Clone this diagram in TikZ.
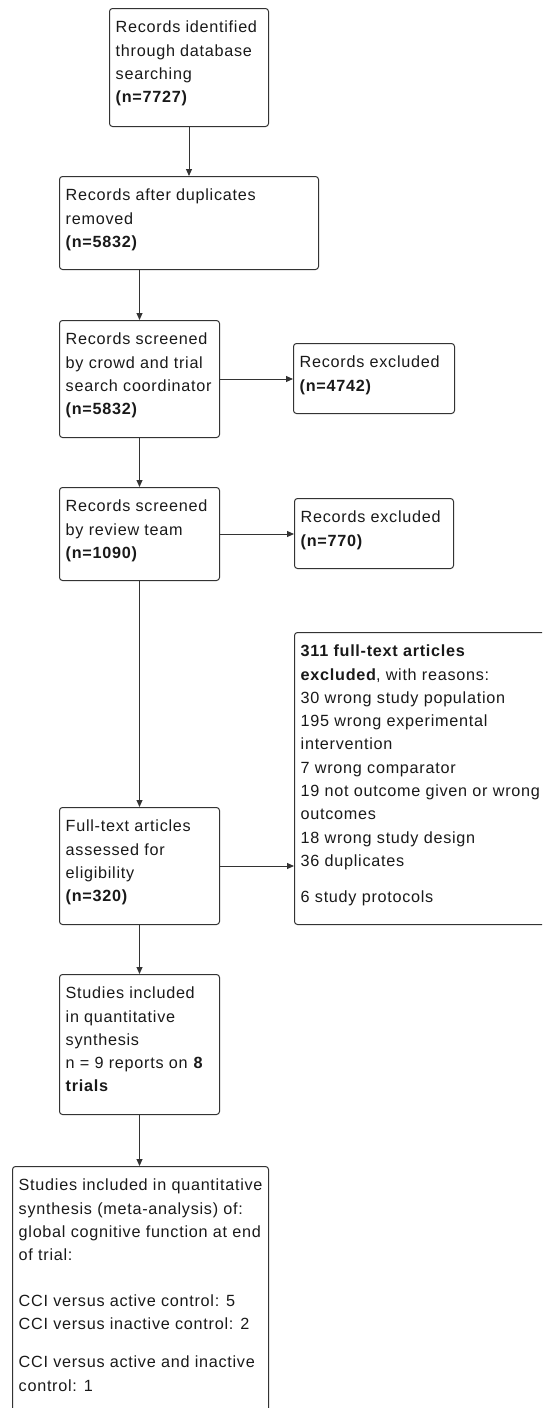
\documentclass[tikz,border=0pt]{standalone}
\usepackage{fontspec}
\setmainfont{Liberation Sans}[LetterSpace=4.5]
\usetikzlibrary{arrows.meta}
\tikzset{
  box/.style={draw=black!80, line width=1pt, rounded corners=3pt, inner sep=0pt, anchor=north west},
  txt/.style={anchor=north west, inner sep=0pt, align=left, text=black!90,
    font=\fontsize{16.2}{23.3}\selectfont},
  arr/.style={draw=black!80, line width=1pt, -{Triangle[length=7pt,width=6pt]}},
}
\newcommand\fl{\rule{0pt}{14pt}}
\begin{document}
\begin{tikzpicture}[x=1pt,y=-1pt]
\useasboundingbox (0,0) rectangle (542,1408);
\clip (0,0) rectangle (542,1408);
% boxes
\node[box, minimum width=159pt, minimum height=118pt] (b1) at (109,8) {};
\node[box, minimum width=259pt, minimum height=93pt] (b2) at (59,176) {};
\node[box, minimum width=160pt, minimum height=117pt] (b3) at (59,320) {};
\node[box, minimum width=161pt, minimum height=70pt] (b4) at (293,343) {};
\node[box, minimum width=160pt, minimum height=93pt] (b5) at (59,487) {};
\node[box, minimum width=159pt, minimum height=70pt] (b6) at (294,498) {};
\node[box, minimum width=270pt, minimum height=292pt] (b7) at (294,632) {};
\node[box, minimum width=160pt, minimum height=117pt] (b8) at (59,807) {};
\node[box, minimum width=160pt, minimum height=140pt] (b9) at (59,974) {};
\node[box, minimum width=256pt, minimum height=270pt] (b10) at (12,1166) {};
% texts
\node[txt] (t1) at ([xshift=6.5pt,yshift=-10.5pt]b1.north west)
  {\fl Records identified\\through database\\searching\\\textbf{(n=7727)}};
\node[txt] (t2) at ([xshift=6.5pt,yshift=-10.5pt]b2.north west)
  {\fl Records after duplicates\\removed\\\textbf{(n=5832)}};
\node[txt] (t3) at ([xshift=6.5pt,yshift=-10.5pt]b3.north west)
  {\fl Records screened\\by crowd and trial\\search coordinator\\\textbf{(n=5832)}};
\node[txt] (t4) at ([xshift=6.5pt,yshift=-10.5pt]b4.north west)
  {\fl Records excluded\\\textbf{(n=4742)}};
\node[txt] (t5) at ([xshift=6.5pt,yshift=-10.5pt]b5.north west)
  {\fl Records screened\\by review team\\\textbf{(n=1090)}};
\node[txt] (t6) at ([xshift=6.5pt,yshift=-10.5pt]b6.north west)
  {\fl Records excluded\\\textbf{(n=770)}};
\node[txt] (t7) at ([xshift=6.5pt,yshift=-10.5pt]b7.north west)
  {\fl\textbf{311 full-text articles}\\\textbf{excluded}, with reasons:\\30 wrong study population\\195 wrong experimental\\intervention\\7 wrong comparator\\19 not outcome given or wrong\\outcomes\\18 wrong study design\\36 duplicates\\[12.7pt]6 study protocols};
\node[txt] (t8) at ([xshift=6.5pt,yshift=-10.5pt]b8.north west)
  {\fl Full-text articles\\assessed for\\eligibility\\\textbf{(n=320)}};
\node[txt] (t9) at ([xshift=6.5pt,yshift=-10.5pt]b9.north west)
  {\fl Studies included\\in quantitative\\synthesis\\n = 9 reports on \textbf{8}\\\textbf{trials}};
\node[txt] (t10) at ([xshift=6.5pt,yshift=-10.5pt]b10.north west)
  {\fl Studies included in quantitative\\synthesis (meta-analysis) of:\\global cognitive function at end\\of trial:\\[22.7pt]CCI versus active control: 5\\CCI versus inactive control: 2\\[14.7pt]CCI versus active and inactive\\control: 1};
% connectors
\draw[arr] (b1.south) -- (b2.north);
\draw[arr] (b2.south -| b3.north) -- (b3.north);
\draw[arr] (b3.east) -- (b3.east -| b4.west);
\draw[arr] (b3.south) -- (b5.north);
\draw[arr] (b5.east) -- (b5.east -| b6.west);
\draw[arr] (b5.south) -- (b8.north);
\draw[arr] (b8.east) -- (b8.east -| b7.west);
\draw[arr] (b8.south) -- (b9.north);
\draw[arr] (b9.south) -- (b9.south |- b10.north);
\end{tikzpicture}
\end{document}
